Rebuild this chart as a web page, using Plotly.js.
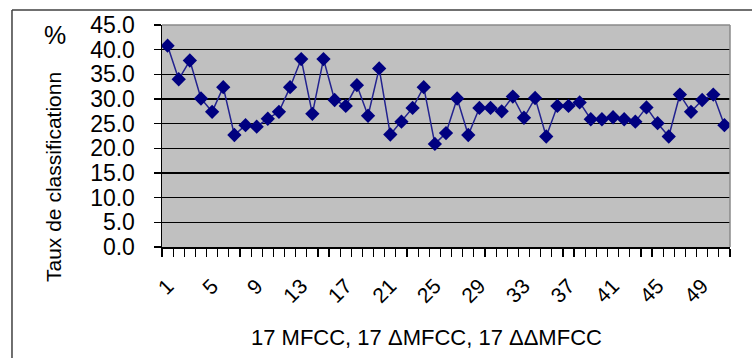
<!DOCTYPE html>
<html>
<head>
<meta charset="utf-8">
<script src="https://cdn.plot.ly/plotly-3.0.1.min.js"></script>
<style>
html,body{margin:0;padding:0;background:#fff;}
#chart{width:752px;height:358px;}
</style>
</head>
<body>
<div id="chart"></div>
<script>
// Data
const categories = [1,2,3,4,5,6,7,8,9,10,11,12,13,14,15,16,17,18,19,20,21,22,23,24,25,26,27,28,29,30,31,32,33,34,35,36,37,38,39,40,41,42,43,44,45,46,47,48,49,50,51];
const rates = [40.8,34.0,37.8,30.1,27.4,32.4,22.7,24.7,24.4,26.0,27.4,32.4,38.1,27.0,38.1,29.8,28.6,32.8,26.6,36.2,22.8,25.4,28.2,32.4,20.9,23.1,30.1,22.7,28.2,28.2,27.5,30.5,26.2,30.2,22.4,28.6,28.6,29.3,25.9,25.9,26.3,25.9,25.4,28.3,25.1,22.4,30.9,27.4,29.8,30.9,24.7];
const xTickVals = [1,5,9,13,17,21,25,29,33,37,41,45,49];
const xTickText = ['1','5','9','13','17','21','25','29','33','37','41','45','49'];
const yTickVals = [0,5,10,15,20,25,30,35,40,45];
const xTitle = '17 MFCC, 17 \u0394MFCC, 17 \u0394\u0394MFCC';
const yTitle = 'Taux de classificationn';
const unitLabel = '%';

const FONT = 'Liberation Sans, Arial, sans-serif';

const trace = {
  x: categories,
  y: rates,
  type: 'scatter',
  mode: 'lines+markers',
  line: {color: '#22228f', width: 1.5},
  marker: {symbol: 'diamond', size: 11, color: '#000080'},
  hoverinfo: 'x+y'
};

const layout = {
  width: 752,
  height: 358,
  margin: {l: 162, r: 22, t: 25, b: 111},
  paper_bgcolor: '#ffffff',
  plot_bgcolor: '#c0c0c0',
  showlegend: false,
  font: {family: FONT, color: '#000'},
  xaxis: {
    range: [0.5, categories.length + 0.5],
    tickmode: 'array',
    tickvals: xTickVals,
    ticktext: xTickText,
    tickangle: -45,
    tickfont: {family: FONT, size: 21, color: '#000'},
    ticks: 'outside',
    ticklen: 8,
    tickcolor: 'rgba(0,0,0,0)',
    ticklabelstandoff: 9,
    minor: {ticks: 'outside', tick0: 0.5, dtick: 1, ticklen: 8, tickwidth: 1.2, tickcolor: '#000', showgrid: false},
    showgrid: false,
    zeroline: false,
    showline: true,
    linecolor: '#000',
    linewidth: 1.5,
    fixedrange: true
  },
  yaxis: {
    range: [0, 45],
    tickmode: 'array',
    tickvals: yTickVals,
    tickformat: '.1f',
    tickfont: {family: FONT, size: 23, color: '#000'},
    ticks: 'outside',
    ticklen: 7,
    tickwidth: 1.2,
    tickcolor: '#000',
    ticklabelstandoff: 14,
    showgrid: true,
    gridcolor: '#000',
    gridwidth: 1.5,
    zeroline: false,
    showline: true,
    linecolor: '#000',
    linewidth: 1.5,
    fixedrange: true
  },
  shapes: [
    // outer chart border (top and left)
    {type: 'line', xref: 'paper', yref: 'paper', x0: -0.2641, x1: 1.05, y0: 1.0676, y1: 1.0676, line: {color: '#404040', width: 1.5}},
    {type: 'line', xref: 'paper', yref: 'paper', x0: -0.2641, x1: -0.2641, y0: 1.0676, y1: -0.55, line: {color: '#404040', width: 1.5}},
    // plot area top/right border in gray
    {type: 'line', xref: 'paper', yref: 'paper', x0: 0, x1: 1, y0: 1, y1: 1, layer: 'above', line: {color: '#8a8a8a', width: 1.5}},
    {type: 'line', xref: 'paper', yref: 'paper', x0: 1, x1: 1, y0: 0, y1: 1, layer: 'above', line: {color: '#8a8a8a', width: 1.5}}
  ],
  annotations: [
    {text: xTitle, xref: 'paper', yref: 'paper', x: (426 - 162) / 568, y: (247 - 337) / 222, xanchor: 'center', yanchor: 'middle', showarrow: false, font: {family: FONT, size: 22, color: '#000'}},
    {text: yTitle, xref: 'paper', yref: 'paper', x: (53 - 162) / 568, y: (247 - 177) / 222, xanchor: 'center', yanchor: 'middle', textangle: -90, showarrow: false, font: {family: FONT, size: 21, color: '#000'}},
    {text: unitLabel, xref: 'paper', yref: 'paper', x: (55 - 162) / 568, y: (247 - 35) / 222, xanchor: 'center', yanchor: 'middle', showarrow: false, font: {family: FONT, size: 25, color: '#000'}}
  ]
};

Plotly.newPlot('chart', [trace], layout, {displayModeBar: false, staticPlot: true});
</script>
</body>
</html>
